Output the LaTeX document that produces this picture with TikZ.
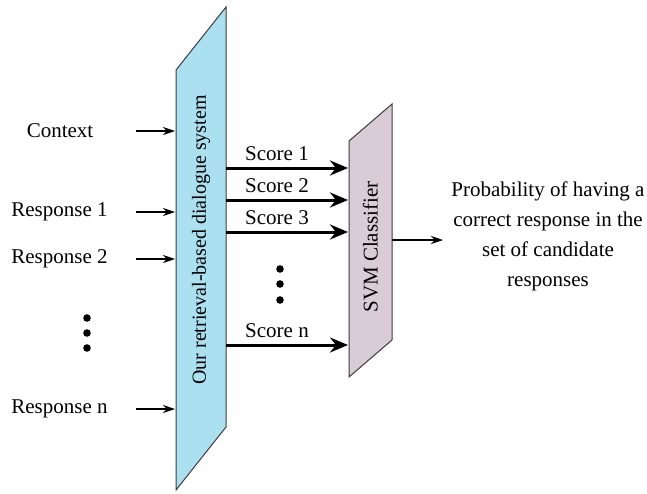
\documentclass[tikz,border=0pt]{standalone}
\usepackage{fontspec}
\setmainfont{Liberation Serif}
\usetikzlibrary{arrows.meta}
\definecolor{sysblue}{RGB}{170,224,240}
\definecolor{svmmauve}{RGB}{218,204,214}
\definecolor{edgegray}{RGB}{60,60,60}
\begin{document}
\begin{tikzpicture}[x=0.5pt,y=-0.5pt,
  lbl/.style={font=\fontsize{10.5}{12}\selectfont, inner sep=0pt},
  inarrow/.style={-{Stealth[length=6pt,width=4pt]}, line width=0.6pt},
  scorearrow/.style={-{Stealth[length=9pt,width=7.5pt]}, line width=1.5pt},
  blockshape/.style={draw=edgegray, line width=0.5pt},
  dotmark/.style={circle, fill=black, inner sep=0pt, minimum size=3.8pt}]
\useasboundingbox (0,0) rectangle (647,493);
% main system block
\path[blockshape, fill=sysblue] (176,70) -- (226,7) -- (226,427) -- (176,490) -- cycle;
\node[lbl, rotate=90, font=\fontsize{10}{12}\selectfont] (sys) at (201,240) {Our retrieval-based dialogue system};
% SVM block
\path[blockshape, fill=svmmauve] (349,141) -- (392,104) -- (392,340) -- (349,377) -- cycle;
\node[lbl, rotate=90] (svm) at (370.5,247) {SVM Classifier};
% inputs
\node[lbl] (ctx) at (60,131) {Context};
\node[lbl, anchor=west] (r1) at (11,212) {Response 1};
\node[lbl, anchor=west] (r2) at (11,259) {Response 2};
\node[lbl, anchor=west] (rn) at (11,409) {Response n};
\foreach \n/\y in {ctx/131, r1/212, r2/259, rn/409} {
  \coordinate (\n s) at (136,\y);
  \coordinate (\n e) at (175,\y);
  \draw[inarrow] (\n s) -- (\n e);
}
\node[dotmark] (ld1) at (87,318) {};
\node[dotmark] (ld2) at (87,333) {};
\node[dotmark] (ld3) at (87,348) {};
% scores
\foreach \n/\t/\y in {s1/Score 1/168, s2/Score 2/200, s3/Score 3/232, sn/Score n/345} {
  \coordinate (\n s) at (226,\y);
  \coordinate (\n e) at (348,\y);
  \draw[scorearrow] (\n s) -- (\n e);
  \node[lbl] (\n l) at (277,\y-14) {\t};
}
\node[dotmark] (sd1) at (280,269) {};
\node[dotmark] (sd2) at (280,284) {};
\node[dotmark] (sd3) at (280,300) {};
% output
\coordinate (outs) at (392,240);
\coordinate (oute) at (443,240);
\draw[inarrow] (outs) -- (oute);
\node[lbl, align=center, font=\fontsize{10.5}{15}\selectfont] (out) at (548,236)
  {Probability of having a\\correct response in the\\set of candidate\\responses};
\end{tikzpicture}
\end{document}
